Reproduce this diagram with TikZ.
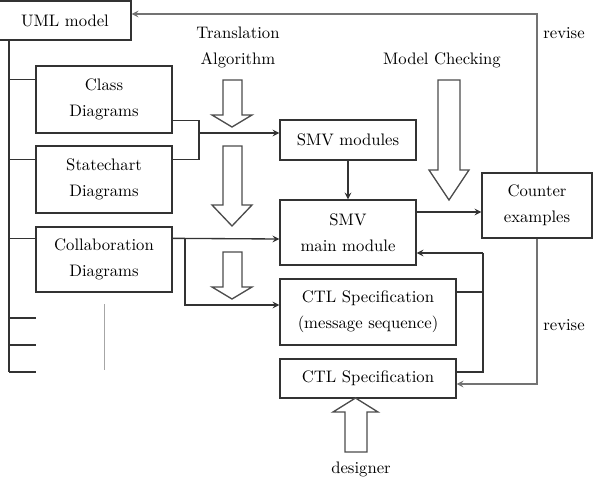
\documentclass[tikz,border=0pt]{standalone}
\usepackage{tikz}
\usetikzlibrary{calc}
\usetikzlibrary{arrows, positioning}

\begin{document}
\begin{tikzpicture}[
		x=0.6pt, y=-0.6pt,
		box/.style={
				draw=black!80,
				thick,
				align=center,
				inner sep=1pt,
				font=\linespread{1.3}\selectfont
			},
		line/.style={draw=black!80, thick},
		revise/.style={draw=black!55, thick},
		hollow/.style={draw=black!70, thick, fill=white}
	]
	\useasboundingbox (0,0) rectangle (599,484);

	% UML side
	\node[box, minimum width=79.2pt, minimum height=23.4pt] (uml) at (65,20.5) {UML model};
	\node[box, minimum width=81.6pt, minimum height=40.2pt] (class) at (104,99.5) {Class\\Diagrams};
	\node[box, minimum width=81.6pt, minimum height=40.2pt] (state) at (104,179.5) {Statechart\\Diagrams};
	\node[box, minimum width=81.6pt, minimum height=39pt] (collab) at (104,259.5) {Collaboration\\Diagrams};

	% SMV side
	\node[box, minimum width=81.6pt, minimum height=24pt] (smvmod) at (348,140) {SMV modules};
	\node[box, minimum width=81.6pt, minimum height=39pt] (smvmain) at (348,232.5) {SMV\\main module};
	\node[box, minimum width=105.6pt, minimum height=39.6pt] (ctlmsg) at (368,312) {CTL Specification\\(message sequence)};
	\node[box, minimum width=105.6pt, minimum height=23.4pt] (ctl) at (368,378.5) {CTL Specification};
	\node[box, minimum width=66pt, minimum height=39pt] (counter) at (537,205.5) {Counter\\examples};

	% labels
	\node[align=center, font=\linespread{1.3}\selectfont] (transl) at (238,47) {Translation\\Algorithm};
	\node (mc) at (442,60) {Model Checking};
	\node (rev1) at (564,33) {revise};
	\node (rev2) at (564,325) {revise};
	\node (designer) at (361,469) {designer};

	% trunk of the UML model
	\coordinate (trunk) at (9,372);
	\draw[line] (uml.south -| trunk) -- (trunk);
	\draw[line] ($(class.north west)+(0,14)$) -| (trunk);
	\draw[line] ($(state.north west)+(0,14)$) -- +(-27,0);
	\draw[line] ($(collab.north west)+(0,12)$) -- +(-27,0);
	\foreach \y in {318,345,372}
	\draw[line] (9,\y) -- (36,\y);
	\draw[draw=black!35] (104,304) -- (104,370);

	% translation
	\coordinate (join) at (199,133);
	\draw[line] ($(class.south east)+(0,-13)$) -| (join);
	\draw[line] ($(state.north east)+(0,14)$) -| (join);
	\draw[line, -stealth] (join) -- (join -| smvmod.west);
	\draw[line, -stealth] (smvmod) -- (smvmain);
	\coordinate (split) at (185,239);
	\draw[line, -stealth] ($(collab.north east)+(0,12)$) -- (split -| smvmain.west);
	\draw[line, -stealth] (split) |- ($(ctlmsg.west)+(0,-7)$);

	% model checking
	\coordinate (mcout) at ($(smvmain.east)+(0,-20.5)$);
	\draw[line, -stealth] (mcout) -- (mcout -| counter.west);
	\coordinate (merge) at (483,253);
	\draw[line] ($(ctlmsg.east)+(0,-20)$) -| (merge);
	\draw[line] ($(ctl.east)+(0,-6.5)$) -| (merge);
	\draw[line, -stealth] (merge) -- (merge -| smvmain.east);

	% revise loops
	\draw[revise, -stealth] (counter.north) |- ($(uml.east)+(0,-6.5)$);
	\draw[revise, -stealth] (counter.south) |- ($(ctl.east)+(0,5.5)$);

	% hollow block arrows
	\foreach \xl/\xr/\hl/\hr/\top/\base/\tip in {
			223/242/212/252/80/115/127,
			223/242/212/252/146/205/226,
			223/242/212/252/252/287/299,
			438/460/429/469/80/170/200,
			345/367/333/378/452/412/398}
	\draw[hollow] (\xl,\top) -- (\xl,\base) -- (\hl,\base) -- ({(\hl+\hr)/2},\tip)
	-- (\hr,\base) -- (\xr,\base) -- (\xr,\top) -- cycle;
\end{tikzpicture}
\end{document}
